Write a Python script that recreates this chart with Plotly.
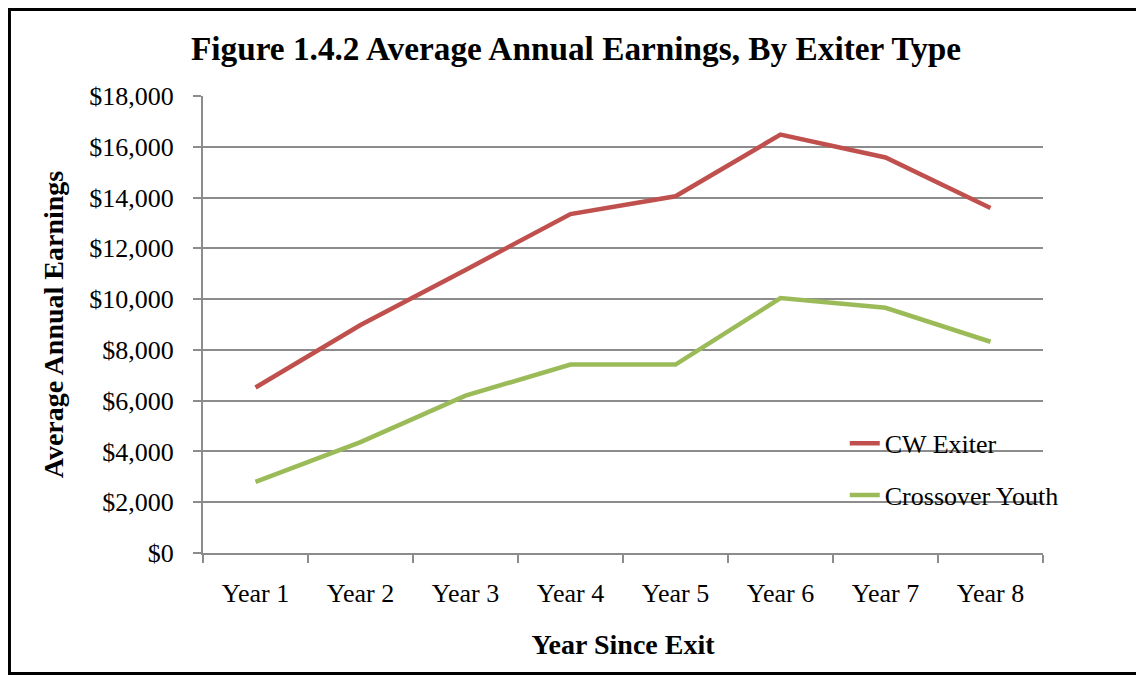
import plotly.graph_objects as go

years = ["Year 1", "Year 2", "Year 3", "Year 4", "Year 5", "Year 6", "Year 7", "Year 8"]
cw_exiter = [6520, 8980, 11150, 13350, 14050, 16480, 15580, 13590]
crossover_youth = [2800, 4370, 6200, 7420, 7420, 10040, 9660, 8320]
y_ticks = [0, 2000, 4000, 6000, 8000, 10000, 12000, 14000, 16000, 18000]
y_labels = ["${:,}".format(v) for v in y_ticks]

SERIF = "Liberation Serif"
GRID = "#8c8c8c"

fig = go.Figure()
fig.add_trace(go.Scatter(
    x=years, y=cw_exiter, name="CW Exiter", mode="lines",
    line=dict(color="#C0504D", width=4.5), legendgroup="a",
))
fig.add_trace(go.Scatter(
    x=years, y=crossover_youth, name="Crossover Youth", mode="lines",
    line=dict(color="#9BBB59", width=4.5), legendgroup="b",
))

# page body adds an 8px offset, so the figure is 8px smaller than the window
fig.update_layout(
    width=1136,
    height=674,
    paper_bgcolor="white",
    plot_bgcolor="white",
    margin=dict(l=195, r=101, t=88, b=129),
    font=dict(family=SERIF, size=26, color="black"),
    title=dict(
        text="<b>Figure 1.4.2 Average Annual Earnings, By Exiter Type</b>",
        x=0.5, xref="container", xanchor="center",
        y=0.9407, yref="container", yanchor="middle",
        font=dict(family=SERIF, size=33.3, color="black"),
    ),
    showlegend=True,
    legend=dict(
        x=0.764, y=0.183, xanchor="left", yanchor="middle",
        bgcolor="rgba(0,0,0,0)",
        font=dict(family=SERIF, size=26, color="black"),
        tracegroupgap=15,
        itemwidth=30,
    ),
)

fig.update_xaxes(
    type="category",
    range=[-0.5, 7.5],
    showgrid=False,
    showline=True, linecolor=GRID, linewidth=2,
    ticks="outside", tickson="boundaries", ticklen=8, tickcolor=GRID, tickwidth=2,
    ticklabelstandoff=16,
    title=dict(text="<b>Year Since Exit</b>", standoff=27,
               font=dict(family=SERIF, size=28)),
)
fig.update_yaxes(
    range=[0, 18000],
    tickvals=y_ticks, ticktext=y_labels,
    showgrid=True, gridcolor=GRID, gridwidth=2,
    showline=True, linecolor=GRID, linewidth=2,
    ticks="outside", ticklen=8, tickcolor=GRID, tickwidth=2,
    ticklabelstandoff=14,
    zeroline=False,
    title=dict(text="<b>Average Annual Earnings</b>", standoff=17,
               font=dict(family=SERIF, size=28)),
)

# outer frame around the whole chart
fig.add_shape(
    type="rect", xref="paper", yref="paper",
    x0=-0.2304, x1=1.1167, y0=-0.2637, y1=1.1893,
    line=dict(color="black", width=3), fillcolor="rgba(0,0,0,0)",
    layer="below",
)

fig.write_html("out.html")
